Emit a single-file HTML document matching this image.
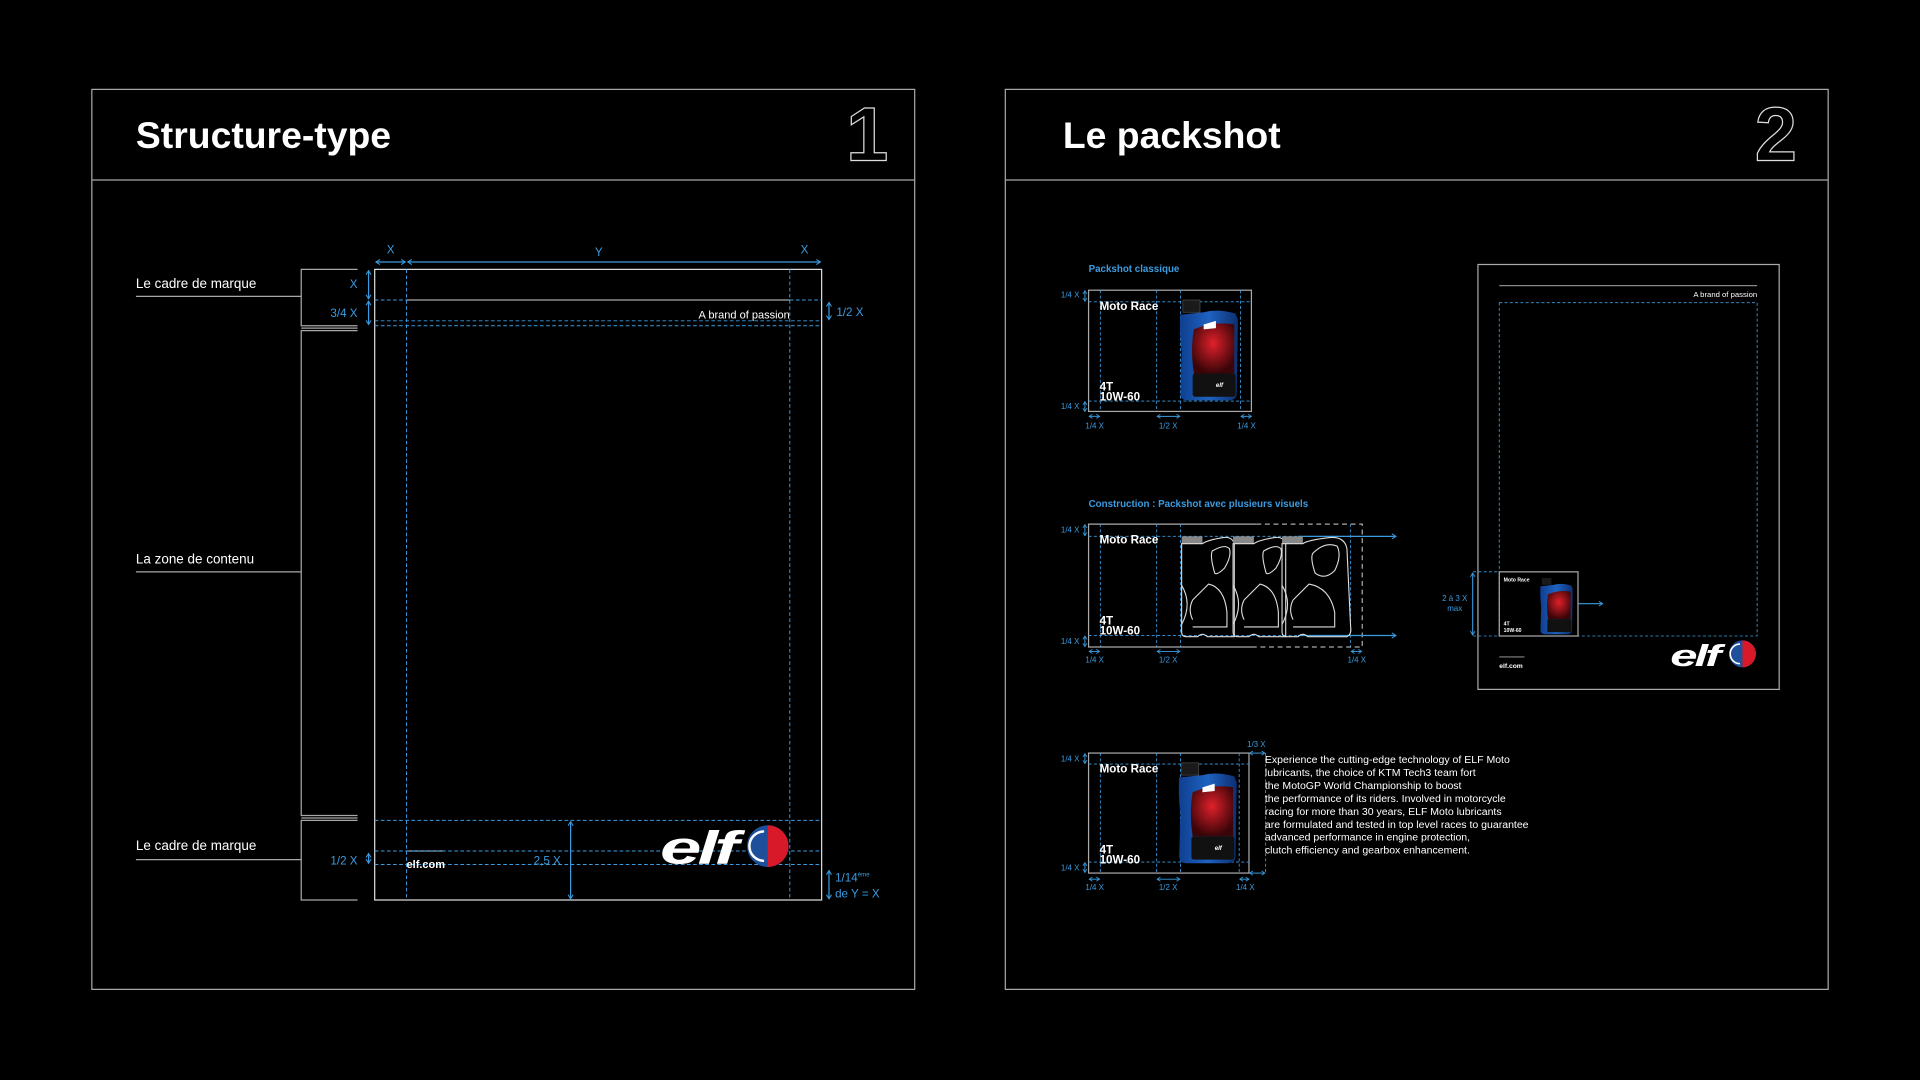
<!DOCTYPE html>
<html><head><meta charset="utf-8"><style>
html,body{margin:0;padding:0;background:#000;width:1920px;height:1080px;overflow:hidden}
svg{display:block}
text{font-family:"Liberation Sans",Arial,sans-serif}
</style></head><body>
<svg width="1920" height="1080" viewBox="0 0 1568 882" xmlns="http://www.w3.org/2000/svg">
<defs>
<marker id="a" viewBox="0 0 6 6" refX="5" refY="3" markerWidth="5" markerHeight="5" orient="auto-start-reverse"><path d="M1,0.5 L5,3 L1,5.5" fill="none" stroke="#3b9be0" stroke-width="1"/></marker>
<linearGradient id="bg" x1="0" x2="1"><stop offset="0" stop-color="#0f3f8f"/><stop offset="0.5" stop-color="#1e62c0"/><stop offset="1" stop-color="#0c2f70"/></linearGradient>
<radialGradient id="rg" cx="0.5" cy="0.4" r="0.6"><stop offset="0" stop-color="#e0202a"/><stop offset="1" stop-color="#3a0508"/></radialGradient>
</defs>
<rect width="1568" height="882" fill="#000"/>
<g fill="none" stroke="#a8a8a8" stroke-width="1">
<rect x="75" y="73" width="672" height="735"/><line x1="75" y1="147" x2="747" y2="147"/>
<rect x="821" y="73" width="672" height="735"/><line x1="821" y1="147" x2="1493" y2="147"/>
</g>
<text x="111" y="121" font-size="30.5" font-weight="bold" fill="#fff">Structure-type</text>
<text x="868" y="121" font-size="30.5" font-weight="bold" fill="#fff">Le packshot</text>
<text x="691" y="131" font-size="62" font-weight="bold" fill="none" stroke="#ddd" stroke-width="1">1</text>
<text x="1433" y="131" font-size="62" font-weight="bold" fill="none" stroke="#ddd" stroke-width="1">2</text>

<g fill="#fff" font-size="11">
<text x="111" y="235">Le cadre de marque</text>
<text x="111" y="460">La zone de contenu</text>
<text x="111" y="694">Le cadre de marque</text>
</g>
<g fill="none" stroke="#a8a8a8" stroke-width="1">
<line x1="111" y1="242" x2="246" y2="242"/><line x1="111" y1="467" x2="246" y2="467"/><line x1="111" y1="702" x2="246" y2="702"/>
<path d="M292,220 H246 V266 H292 M246,268 H292"/>
<path d="M292,270 H246 V666 H292 M246,668 H292"/>
<path d="M292,670 H246 V735 H292"/>
<rect x="306" y="220" width="365" height="515" stroke="#ddd"/>
<line x1="332" y1="245" x2="645" y2="245"/>
<line x1="332" y1="695" x2="362" y2="695"/>
</g>
<g stroke="#3b9be0" stroke-width="0.8" stroke-dasharray="3 2" fill="none">
<line x1="332" y1="220" x2="332" y2="735"/><line x1="645" y1="220" x2="645" y2="735"/>
<line x1="306" y1="245" x2="332" y2="245"/><line x1="645" y1="245" x2="671" y2="245"/>
<line x1="306" y1="262" x2="671" y2="262"/><line x1="306" y1="266" x2="671" y2="266"/>
<line x1="306" y1="670" x2="671" y2="670"/><line x1="306" y1="695" x2="671" y2="695"/><line x1="306" y1="706" x2="671" y2="706"/>
</g>
<g stroke="#3b9be0" stroke-width="1" fill="none" marker-start="url(#a)" marker-end="url(#a)">
<line x1="307" y1="214" x2="331" y2="214"/><line x1="333" y1="214" x2="670" y2="214"/>
<line x1="301" y1="221" x2="301" y2="244"/><line x1="301" y1="246" x2="301" y2="265"/>
<line x1="677" y1="247" x2="677" y2="261"/>
<line x1="466" y1="671" x2="466" y2="734"/>
<line x1="301" y1="697" x2="301" y2="705"/>
<line x1="677" y1="711" x2="677" y2="734"/>
</g>
<g fill="#3b9be0" font-size="9.5">
<text x="319" y="207" text-anchor="middle">X</text><text x="489" y="209" text-anchor="middle">Y</text><text x="657" y="207" text-anchor="middle">X</text>
<text x="292" y="235" text-anchor="end">X</text><text x="292" y="259" text-anchor="end">3/4 X</text>
<text x="683" y="258">1/2 X</text>
<text x="292" y="706" text-anchor="end">1/2 X</text>
<text x="458" y="706" text-anchor="end">2,5 X</text>
<text x="682" y="720">1/14<tspan font-size="5" dy="-4">ème</tspan></text>
<text x="682" y="733">de Y = X</text>
</g>
<text x="645" y="260" fill="#fff" font-size="9" text-anchor="end">A brand of passion</text>
<text x="332" y="709" fill="#fff" font-size="9" font-weight="bold">elf.com</text>
<text transform="translate(539,705) scale(1.6,1)" x="0" y="0" fill="#fff" font-size="38" font-weight="bold" font-style="italic" letter-spacing="-2">elf</text>
<g transform="translate(627,691)">
<circle r="17" fill="#1d4f9a"/><path d="M0,-17 A17,17 0 0 1 0,17 Z" fill="#d7192a"/>
<path d="M-3,-12 A12,12 0 0 0 -3,12" fill="none" stroke="#fff" stroke-width="2"/>
</g>

<g fill="#3b9be0" font-size="8" font-weight="bold">
<text x="889" y="222">Packshot classique</text>
<text x="889" y="414">Construction : Packshot avec plusieurs visuels</text>
</g>
<rect x="889" y="237" width="133" height="99" fill="none" stroke="#aaa"/>
<g stroke="#3b9be0" stroke-width="0.7" stroke-dasharray="2.5 1.8" fill="none">
<line x1="898.6" y1="237" x2="898.6" y2="336"/><line x1="944.6" y1="237" x2="944.6" y2="336"/><line x1="964" y1="237" x2="964" y2="336"/><line x1="1013" y1="237" x2="1013" y2="336"/>
<line x1="889" y1="246.5" x2="1022" y2="246.5"/><line x1="889" y1="327.5" x2="1022" y2="327.5"/>
</g>
<g transform="translate(963,245)">
<rect x="3" y="0" width="14" height="10" fill="#1a1a1a" stroke="#555" stroke-width="0.5"/>
<path d="M1,12 L20,10 Q32,7 46,11 L48,16 L47,76 Q47,82 40,82 L7,82 Q1,82 1,76 L2,42 Q0,25 1,12 Z" fill="url(#bg)"/>
<path d="M12,24 Q28,17 45,20 L45,60 L12,60 Q9,40 12,24 Z" fill="url(#rg)"/>
<rect x="11" y="60" width="35" height="19" rx="2" fill="#111"/>
<path d="M20,20 L30,17 L30,23 L20,24 Z" fill="#fff"/>
<text x="30" y="71" font-size="5" fill="#fff" font-weight="bold" font-style="italic">elf</text>
</g>
<g fill="#fff" font-size="9.5" font-weight="bold">
<text x="898" y="253">Moto Race</text><text x="898" y="319">4T</text><text x="898" y="327">10W-60</text>
</g>
<path d="M1026,428 H889 V528.4 H1026" fill="none" stroke="#aaa"/>
<path d="M1026,428 H1112.5 V528.4 H1026" fill="none" stroke="#aaa" stroke-dasharray="4 3"/>
<g stroke="#3b9be0" stroke-width="0.7" stroke-dasharray="2.5 1.8" fill="none">
<line x1="898.6" y1="428" x2="898.6" y2="528"/><line x1="944.6" y1="428" x2="944.6" y2="528"/><line x1="964" y1="428" x2="964" y2="528"/><line x1="1103" y1="428" x2="1103" y2="528"/>
<line x1="889" y1="438" x2="1112" y2="438"/><line x1="889" y1="519" x2="1112" y2="519"/>
</g>
<g stroke="#3b9be0" stroke-width="1" fill="none" marker-end="url(#a)">
<line x1="1060" y1="438" x2="1140" y2="438"/><line x1="1060" y1="519" x2="1140" y2="519"/>
</g>
<g fill="none" stroke="#ddd" stroke-width="0.9">
<g transform="translate(964,438)"><rect x="1" y="0" width="17" height="6" fill="#888" stroke="none"/><path d="M1,6 V78 Q1,82 5,82 H14 Q18,78 22,82 H44 V6 Q42,0 35,1 Q22,3 18,6 Z"/><path d="M26,12 Q36,6 40,10 Q42,16 36,26 Q30,32 28,30 Q24,16 26,12Z"/><path d="M10,52 L23,39 Q36,42 38,62 L38,74 L10,74 M10,52 Q6,60 10,68"/><path d="M1,40 Q10,55 1,72"/></g>
<g transform="translate(1006,438)"><rect x="1" y="0" width="17" height="6" fill="#888" stroke="none"/><path d="M1,6 V78 Q1,82 5,82 H14 Q18,78 22,82 H44 V6 Q42,0 35,1 Q22,3 18,6 Z"/><path d="M26,12 Q36,6 40,10 Q42,16 36,26 Q30,32 28,30 Q24,16 26,12Z"/><path d="M10,52 L23,39 Q36,42 38,62 L38,74 L10,74 M10,52 Q6,60 10,68"/><path d="M1,40 Q10,55 1,72"/></g>
<g transform="translate(1046,438)"><rect x="1" y="0" width="17" height="6" fill="#888" stroke="none"/><path d="M1,6 V78 Q1,82 5,82 H14 Q18,78 22,82 H54 Q58,80 57,74 L54,10 Q52,0 40,1 Q22,3 18,6 Z"/><path d="M26,14 Q36,4 46,8 Q50,16 44,28 Q36,36 28,30 Q24,18 26,14Z"/><path d="M10,52 L23,39 Q40,42 44,62 L44,74 L10,74 M10,52 Q6,60 10,68"/><path d="M1,40 Q10,55 1,72"/></g>
</g>
<g fill="#fff" font-size="9.5" font-weight="bold">
<text x="898" y="444">Moto Race</text><text x="898" y="510">4T</text><text x="898" y="518">10W-60</text>
</g>
<rect x="889" y="615" width="131" height="98" fill="none" stroke="#aaa"/>
<g stroke="#3b9be0" stroke-width="0.7" stroke-dasharray="2.5 1.8" fill="none">
<line x1="898.6" y1="615" x2="898.6" y2="713"/><line x1="944.6" y1="615" x2="944.6" y2="713"/><line x1="964" y1="615" x2="964" y2="713"/><line x1="1012" y1="615" x2="1012" y2="713"/><line x1="1033.6" y1="615" x2="1033.6" y2="713"/>
<line x1="889" y1="624" x2="1020" y2="624"/><line x1="889" y1="704" x2="1020" y2="704"/>
</g>
<g transform="translate(962,623)">
<rect x="3" y="0" width="14" height="10" fill="#1a1a1a" stroke="#555" stroke-width="0.5"/>
<path d="M1,12 L20,10 Q32,7 46,11 L48,16 L47,76 Q47,82 40,82 L7,82 Q1,82 1,76 L2,42 Q0,25 1,12 Z" fill="url(#bg)"/>
<path d="M12,24 Q28,17 45,20 L45,60 L12,60 Q9,40 12,24 Z" fill="url(#rg)"/>
<rect x="11" y="60" width="35" height="19" rx="2" fill="#111"/>
<path d="M20,20 L30,17 L30,23 L20,24 Z" fill="#fff"/>
<text x="30" y="71" font-size="5" fill="#fff" font-weight="bold" font-style="italic">elf</text>
</g>
<g fill="#fff" font-size="9.5" font-weight="bold">
<text x="898" y="631">Moto Race</text><text x="898" y="697">4T</text><text x="898" y="705">10W-60</text>
</g>
<g fill="#fff" font-size="8.6">
<text x="1033" y="623">Experience the cutting-edge technology of ELF Moto</text>
<text x="1033" y="633.6">lubricants, the choice of KTM Tech3 team fort</text>
<text x="1033" y="644.2">the MotoGP World Championship to boost</text>
<text x="1033" y="654.8">the performance of its riders. Involved in motorcycle</text>
<text x="1033" y="665.4">racing for more than 30 years, ELF Moto lubricants</text>
<text x="1033" y="676">are formulated and tested in top level races to guarantee</text>
<text x="1033" y="686.6">advanced performance in engine protection,</text>
<text x="1033" y="697.2">clutch efficiency and gearbox enhancement.</text>
</g>
<g stroke="#3b9be0" stroke-width="0.8" fill="none" marker-start="url(#a)" marker-end="url(#a)">
<line x1="886" y1="237.5" x2="886" y2="246"/><line x1="886" y1="328" x2="886" y2="336"/>
<line x1="889.5" y1="340" x2="898" y2="340"/><line x1="945" y1="340" x2="963.5" y2="340"/><line x1="1013.5" y1="340" x2="1022" y2="340"/>
<line x1="886" y1="428.5" x2="886" y2="437.5"/><line x1="886" y1="519.5" x2="886" y2="528"/>
<line x1="889.5" y1="532" x2="898" y2="532"/><line x1="945" y1="532" x2="963.5" y2="532"/><line x1="1103.5" y1="532" x2="1112" y2="532"/>
<line x1="886" y1="615.5" x2="886" y2="623.5"/><line x1="886" y1="704.5" x2="886" y2="712.5"/>
<line x1="889.5" y1="718" x2="898" y2="718"/><line x1="945" y1="718" x2="963.5" y2="718"/><line x1="1012.5" y1="718" x2="1020" y2="718"/>
<line x1="1020.5" y1="615" x2="1033" y2="615"/><line x1="1020.5" y1="713" x2="1033" y2="713"/>
</g>
<g fill="#3b9be0" font-size="6.5" text-anchor="middle">
<text x="874" y="243">1/4 X</text><text x="874" y="334">1/4 X</text>
<text x="894" y="350">1/4 X</text><text x="954" y="350">1/2 X</text><text x="1018" y="350">1/4 X</text>
<text x="874" y="435">1/4 X</text><text x="874" y="526">1/4 X</text>
<text x="894" y="541">1/4 X</text><text x="954" y="541">1/2 X</text><text x="1108" y="541">1/4 X</text>
<text x="874" y="622">1/4 X</text><text x="874" y="711">1/4 X</text>
<text x="894" y="727">1/4 X</text><text x="954" y="727">1/2 X</text><text x="1017" y="727">1/4 X</text>
<text x="1026" y="610">1/3 X</text>
<text x="1188" y="491">2 à 3 X</text><text x="1188" y="499">max</text>
</g>
<rect x="1207" y="216" width="246" height="347" fill="none" stroke="#aaa"/>
<line x1="1224.4" y1="233.3" x2="1435" y2="233.3" stroke="#888"/>
<text x="1435" y="242.5" fill="#fff" font-size="6.3" text-anchor="end">A brand of passion</text>
<rect x="1224.4" y="247.2" width="210.6" height="272.2" fill="none" stroke="#3b9be0" stroke-width="0.7" stroke-dasharray="2.5 1.8"/>
<path d="M1203,467 H1224 M1203,519.4 H1224" stroke="#3b9be0" stroke-width="0.7" stroke-dasharray="2.5 1.8"/>
<rect x="1224.4" y="467" width="64.3" height="52.4" fill="none" stroke="#aaa"/>
<line x1="1202.7" y1="468" x2="1202.7" y2="518.5" stroke="#3b9be0" stroke-width="0.9" marker-start="url(#a)" marker-end="url(#a)"/>
<line x1="1289" y1="493" x2="1308.8" y2="493" stroke="#3b9be0" stroke-width="0.9" marker-end="url(#a)"/>
<g transform="translate(1257.5,472) scale(0.56)">
<rect x="3" y="0" width="14" height="10" fill="#1a1a1a"/>
<path d="M1,12 L20,10 Q32,7 46,11 L48,16 L47,76 Q47,82 40,82 L7,82 Q1,82 1,76 L2,42 Q0,25 1,12 Z" fill="url(#bg)"/>
<path d="M12,24 Q28,17 45,20 L45,60 L12,60 Q9,40 12,24 Z" fill="url(#rg)"/>
<rect x="11" y="60" width="35" height="19" rx="2" fill="#111"/>
</g>
<g fill="#fff" font-size="4.2" font-weight="bold">
<text x="1228" y="475">Moto Race</text><text x="1228" y="511">4T</text><text x="1228" y="516">10W-60</text>
</g>
<line x1="1224.4" y1="536.5" x2="1245" y2="536.5" stroke="#aaa" stroke-width="0.8"/>
<text x="1224.4" y="545.5" fill="#fff" font-size="5.5" font-weight="bold">elf.com</text>
<text transform="translate(1364,544) scale(1.6,1)" x="0" y="0" fill="#fff" font-size="25" font-weight="bold" font-style="italic" letter-spacing="-1.5">elf</text>
<g transform="translate(1423,534)">
<circle r="11" fill="#1d4f9a"/><path d="M0,-11 A11,11 0 0 1 0,11 Z" fill="#d7192a"/>
<path d="M-2,-8 A8,8 0 0 0 -2,8" fill="none" stroke="#fff" stroke-width="1.3"/>
</g>
</svg>
</body></html>
